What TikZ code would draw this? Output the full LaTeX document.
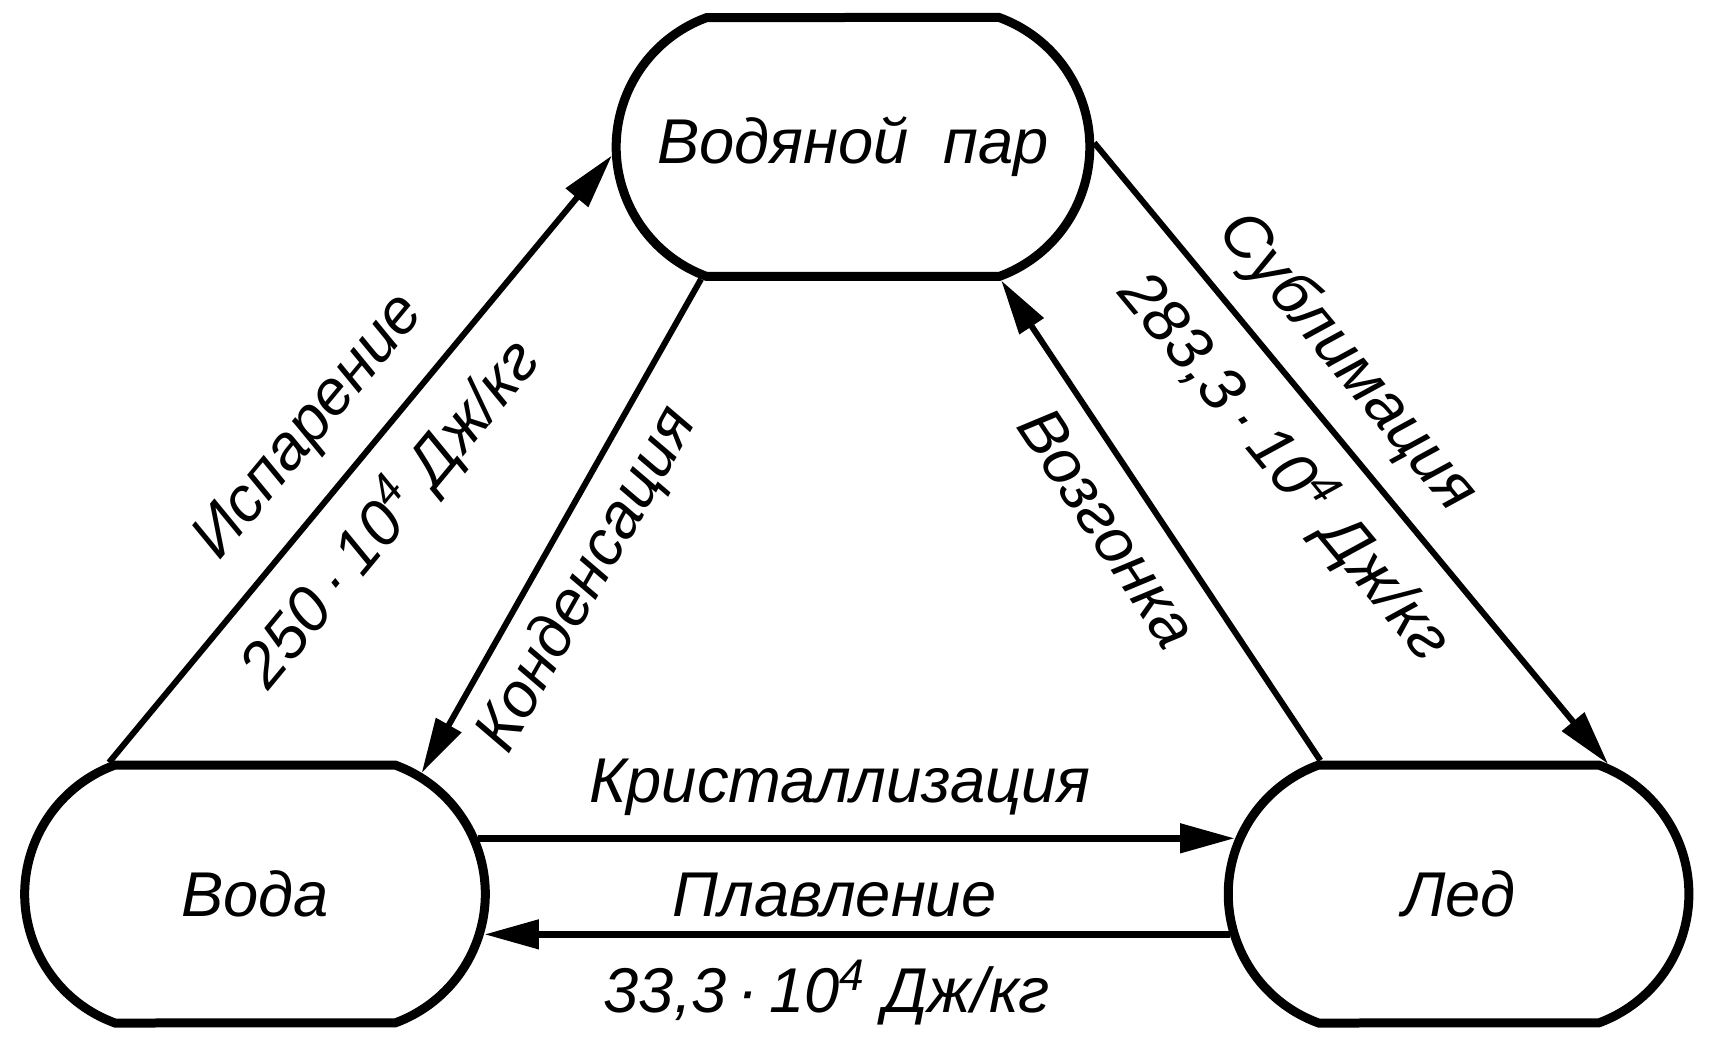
\documentclass[tikz,border=0pt]{standalone}
\usepackage{fontspec}
\setmainfont{Liberation Sans}
\usetikzlibrary{positioning, shapes.misc, arrows.meta}

\tikzset{
  phase/.style={rounded rectangle, rounded rectangle arc length=140,
    draw, line width=0.9mm, minimum width=4.84cm, minimum height=2.58cm,
    font=\fontsize{18}{22}\selectfont\itshape},
  conv/.style={line width=0.6mm, -{Triangle[length=5.5mm, width=2.8mm]}},
  lbl/.style={font=\fontsize{18}{22}\selectfont\itshape, inner sep=0pt}
}

\begin{document}
\begin{tikzpicture}
  \useasboundingbox (0,0) rectangle (17.19,10.41);

  % three phases of water
  \node[phase] (water) at (2.55,1.47) {Вода};
  \node[phase, right=7.34cm of water] (ice) {Лед};
  \node[phase, minimum width=4.97cm, minimum height=2.59cm] (vapor) at (8.53,8.94) {Водяной\ \ пар};

  % transitions
  \draw[conv] (water.138) -- (vapor.182)
    node[lbl, pos=.49, sloped, yshift=5.8mm] {Испарение}
    node[lbl, pos=.47, sloped, yshift=-5.8mm] {250\,·\,10\textsuperscript{4} Дж/кг};
  \draw[conv] (vapor.221) -- (water.36)
    node[lbl, pos=.56, sloped, yshift=-5mm] {Конденсация};
  \draw[conv] (ice.136) -- (vapor.318)
    node[lbl, pos=.54, sloped, yshift=-4.8mm] {Возгонка};
  \draw[conv] (vapor.1) -- (ice.41)
    node[lbl, pos=.41, sloped, yshift=5.4mm] {Сублимация}
    node[lbl, pos=.46, sloped, yshift=-5.9mm] {283,3\,·\,10\textsuperscript{4} Дж/кг};
  \draw[conv, line width=0.75mm] (water.14) -- (ice.166)
    node[lbl, pos=.478, yshift=5.1mm] {Кристаллизация};
  \draw[conv, line width=0.75mm] (ice.190) -- (water.350)
    node[lbl, pos=.53, yshift=3.9mm] {Плавление}
    node[lbl, pos=.54, yshift=-5.8mm] {33,3\,·\,10\textsuperscript{4} Дж/кг};
\end{tikzpicture}
\end{document}
